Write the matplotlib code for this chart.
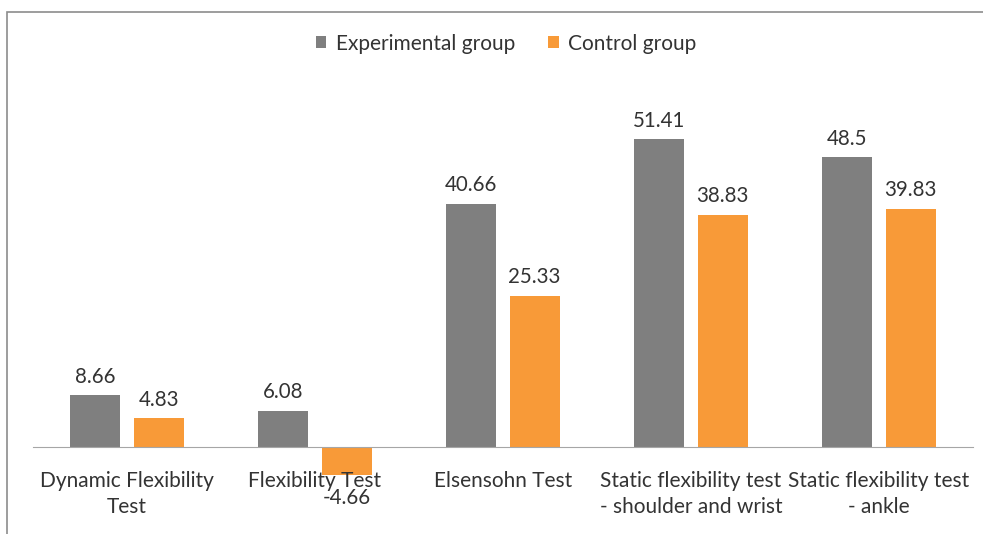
import numpy as np
import matplotlib
matplotlib.use("Agg")
import matplotlib.pyplot as plt
from matplotlib.patches import Rectangle

categories = ["Dynamic Flexibility\nTest", "Flexibility Test", "Elsensohn Test",
              "Static flexibility test\n- shoulder and wrist", "Static flexibility test\n- ankle"]
experimental = [8.66, 6.08, 40.66, 51.41, 48.5]
control = [4.83, -4.66, 25.33, 38.83, 39.83]
series_names = ["Experimental group", "Control group"]

gray = "#7f7f7f"
orange = "#f89a38"
txt = "#333333"
plt.rcParams["font.family"] = ["Lato", "DejaVu Sans"]

fig = plt.figure(figsize=(9.83, 5.34), dpi=100)
ax = fig.add_axes([0.0336, 0.0506, 0.9562, 0.7845])

x = np.arange(len(categories))
w = 0.266
off = 0.168
b1 = ax.bar(x - off, experimental, w, color=gray, label=series_names[0])
b2 = ax.bar(x + off, control, w, color=orange, label=series_names[1])

for bars in (b1, b2):
    for r in bars:
        v = r.get_height()
        cx = r.get_x() + r.get_width() / 2
        if v >= 0:
            ax.annotate(f"{v:g}", (cx, v), xytext=(0, 6), textcoords="offset points",
                        ha="center", va="bottom", fontsize=14.8, color=txt)
        else:
            ax.annotate(f"{v:g}", (cx, v), xytext=(0, -9.5), textcoords="offset points",
                        ha="center", va="top", fontsize=14.8, color=txt)

ax.set_xlim(-0.5, len(categories) - 0.5)
ax.set_ylim(-10, 60)
for s in ["left", "right", "top"]:
    ax.spines[s].set_visible(False)
ax.spines["bottom"].set_position(("data", 0))
ax.spines["bottom"].set_color("#a6a6a6")
ax.set_yticks([])
ax.set_xticks(x)
ax.set_xticklabels(categories, fontsize=15, color=txt, linespacing=1.38)
ax.tick_params(axis="x", length=0, pad=17)

fig.legend(handles=[b1, b2], labels=series_names, loc="center", bbox_to_anchor=(0.515, 0.918),
           ncol=2, frameon=False, fontsize=15, handlelength=0.5, handleheight=0.5,
           handletextpad=0.45, columnspacing=1.6, labelcolor=txt)

fig.patches.append(Rectangle((7 / 983, -0.1), 1.2, 1 - 12 / 534 + 0.1, transform=fig.transFigure,
                             fill=False, edgecolor="#8c8c8c", linewidth=1.2))

fig.savefig("out.png", dpi=100)
